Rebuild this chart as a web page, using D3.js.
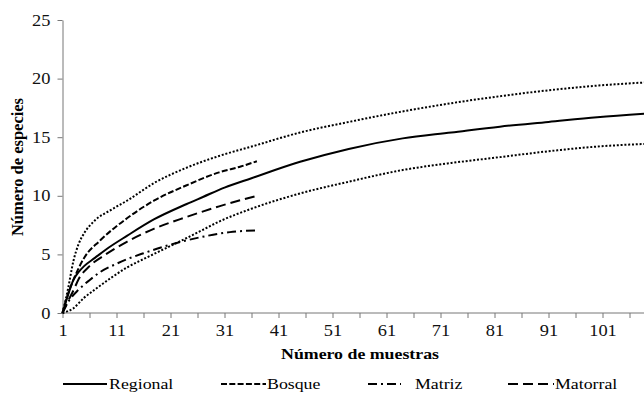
<!DOCTYPE html>
<html>
<head>
<meta charset="utf-8">
<script src="https://cdnjs.cloudflare.com/ajax/libs/d3/7.8.5/d3.min.js"></script>
<style>
	body { margin: 0; background: #fff; }
	svg { display: block; }
	svg text { font-family: 'Liberation Serif', 'Times New Roman', Times, serif; }
</style>
</head>
<body>
<div id="chart"></div>
<script>
'use strict';

// muestras (x) y especies (y)
const regional_x = [1, 2, 3, 4, 5, 7, 9, 13, 18, 24, 27, 31, 36, 45, 54, 64, 73, 82, 91, 100, 110];
const regional_y = [0, 1.5, 2.8, 3.5, 4.0, 4.7, 5.4, 6.6, 8.0, 9.3, 9.9, 10.7, 11.5, 12.9, 14.0, 14.9, 15.4, 15.9, 16.3, 16.7, 17.05];

const sup_x = [1, 2, 3, 4, 5, 7, 10, 13, 18, 24, 30, 36, 45, 54, 64, 73, 82, 91, 100, 110];
const sup_y = [0, 2.0, 4.4, 5.9, 6.8, 7.9, 8.8, 9.6, 11.1, 12.4, 13.4, 14.2, 15.4, 16.3, 17.2, 17.9, 18.5, 19.0, 19.4, 19.7];

const inf_x = [1, 3, 5, 7, 10, 13, 16, 20, 24, 27, 30, 36, 45, 54, 64, 73, 82, 91, 100, 110];
const inf_y = [0, 0.4, 1.3, 2.0, 3.0, 3.9, 4.6, 5.5, 6.4, 7.1, 7.8, 8.9, 10.2, 11.2, 12.2, 12.8, 13.3, 13.8, 14.2, 14.45];

const bosque_x = [1, 2, 3, 5, 8, 13, 18, 24, 30, 34, 37];
const bosque_y = [0, 1.6, 2.8, 4.7, 6.2, 8.1, 9.6, 10.9, 12.0, 12.5, 12.95];

const matriz_x = [1, 2, 4, 6, 8, 11, 13, 16, 20, 24, 28, 32, 37];
const matriz_y = [0, 0.9, 2.0, 2.8, 3.5, 4.2, 4.6, 5.1, 5.7, 6.2, 6.6, 6.9, 7.05];

const matorral_x = [1, 2, 3, 4, 6, 9, 13, 18, 24, 30, 37];
const matorral_y = [0, 1.0, 1.9, 2.9, 4.0, 5.0, 6.1, 7.2, 8.2, 9.1, 10.0];

const x_ticks = d3.range(1, 112, 5);
const x_labels = [1, 11, 21, 31, 41, 51, 61, 71, 81, 91, 101];
const y_ticks = [0, 5, 10, 15, 20, 25];

const legend_names = ['Regional', 'Bosque', 'Matriz', 'Matorral'];

const FONT = "'Liberation Serif', 'Times New Roman', Times, serif";
const W = 644, H = 397;
const svg = d3.select('#chart').append('svg').attr('width', W).attr('height', H);

const x = d3.scaleLinear().domain([1, 111]).range([62.5, 62.5 + 110*5.4]);
const y = d3.scaleLinear().domain([0, 25]).range([313, 20]);

// el original tiene el texto algo estirado en horizontal
const SX = 1.15;
function stretch(sel) {
	sel.each(function() {
		let t = d3.select(this);
		let tx = +t.attr('x') || 0;
		t.attr('transform', 'translate(' + tx + ',0) scale(' + SX + ',1)').attr('x', 0);
	});
}

// ejes
let ax = svg.append('g').attr('transform', 'translate(0,' + y(0) + ')')
	.call(d3.axisBottom(x).tickValues(x_ticks).tickSize(5).tickFormat(d => x_labels.includes(d) ? d : ''));
ax.attr('font-family', FONT).attr('font-size', null);
ax.select('.domain').attr('stroke', '#777').attr('d', 'M' + x(1) + ',0H' + (W + 20));
ax.selectAll('.tick line').attr('stroke', '#777');
ax.selectAll('.tick text').attr('font-size', 16).attr('fill', '#111').attr('dy', '0.95em');
stretch(ax.selectAll('.tick text'));

let ay = svg.append('g').attr('transform', 'translate(' + x(1) + ',0)')
	.call(d3.axisLeft(y).tickValues(y_ticks).tickSize(5).tickSizeOuter(0));
ay.attr('font-family', FONT).attr('font-size', null);
ay.select('.domain').attr('stroke', '#777');
ay.selectAll('.tick line').attr('stroke', '#777');
ay.selectAll('.tick text').attr('font-size', 16).attr('fill', '#111').attr('x', -12);
stretch(ay.selectAll('.tick text'));

let xt = svg.append('text')
	.attr('x', 360).attr('y', 359)
	.attr('text-anchor', 'middle')
	.attr('font-family', FONT)
	.attr('font-size', 15.5).attr('font-weight', 'bold')
	.text('Número de muestras');
stretch(xt);

svg.append('text')
	.attr('transform', 'translate(23,167) rotate(-90)')
	.attr('text-anchor', 'middle')
	.attr('font-family', FONT)
	.attr('font-size', 16.5).attr('font-weight', 'bold')
	.text('Número de especies');

// curvas
const styles = {
	regional: '',
	bosque: '6,2.3',
	matriz: '9,4,2,4',
	matorral: '10,5',
	ci: '2,1.8'
};

function curve(xs, ys, dash) {
	let pts = xs.map((v, i) => [v, ys[i]]);
	let line = d3.line().x(d => x(d[0])).y(d => y(d[1])).curve(d3.curveMonotoneX);
	svg.append('path')
		.attr('d', line(pts))
		.attr('fill', 'none')
		.attr('stroke', '#000')
		.attr('stroke-width', 2)
		.attr('stroke-dasharray', dash || null);
}

curve(sup_x, sup_y, styles.ci);
curve(inf_x, inf_y, styles.ci);
curve(matriz_x, matriz_y, styles.matriz);
curve(matorral_x, matorral_y, styles.matorral);
curve(bosque_x, bosque_y, styles.bosque);
curve(regional_x, regional_y, styles.regional);

// leyenda
const leg = [
	{x1: 63, x2: 107, tx: 109, dash: styles.regional},
	{x1: 221, x2: 266, tx: 267, dash: styles.bosque},
	{x1: 368, x2: 401, tx: 415, dash: styles.matriz},
	{x1: 508, x2: 554, tx: 555, dash: styles.matorral}
];
for (let i=0 ; i<leg.length ; ++i) {
	let l = leg[i];
	svg.append('line')
		.attr('x1', l.x1).attr('x2', l.x2).attr('y1', 384).attr('y2', 384)
		.attr('stroke', '#000').attr('stroke-width', 2)
		.attr('stroke-dasharray', l.dash || null);
	let t = svg.append('text')
		.attr('x', l.tx).attr('y', 389.5)
		.attr('font-family', FONT)
		.attr('font-size', 15.5)
		.text(legend_names[i]);
	stretch(t);
}
</script>
</body>
</html>
